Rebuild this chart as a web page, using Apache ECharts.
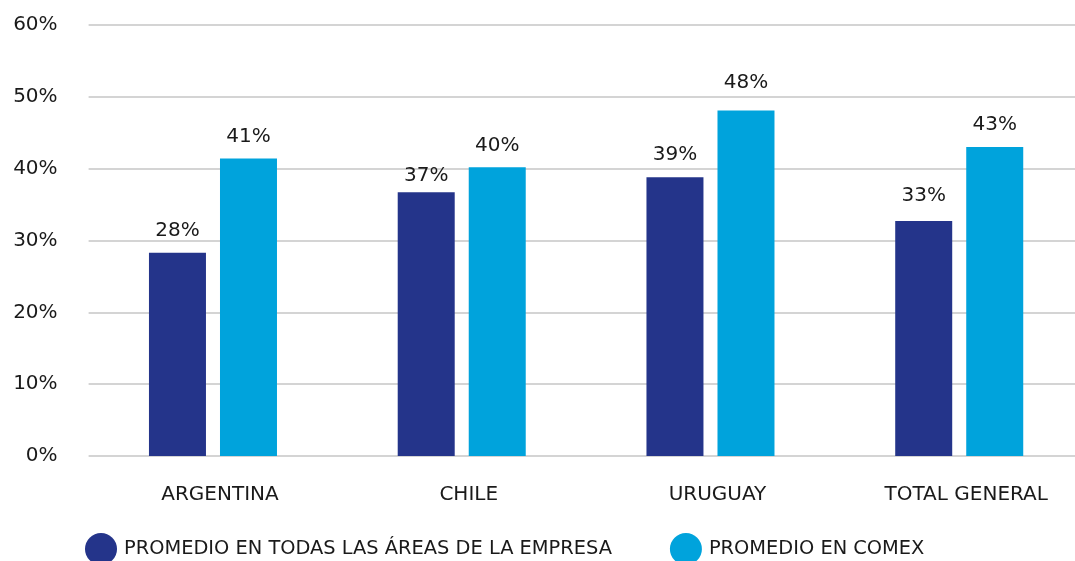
<!DOCTYPE html>
<html>
<head>
<meta charset="utf-8">
<script src="https://cdn.jsdelivr.net/npm/echarts@6/dist/echarts.min.js"></script>
<style>
  html, body { margin: 0; padding: 0; background: #fff; }
  #chart { width: 1075px; height: 561px; }
</style>
</head>
<body>
<div id="chart"></div>
<script>
// datos
const categories = ['ARGENTINA', 'CHILE', 'URUGUAY', 'TOTAL GENERAL'];
const seriesNames = ['PROMEDIO EN TODAS LAS ÁREAS DE LA EMPRESA', 'PROMEDIO EN COMEX'];
const promedioEmpresa = [28.3, 36.7, 38.8, 32.7];
const promedioComex = [41.4, 40.2, 48.1, 43.0];
const yTicks = [0, 10, 20, 30, 40, 50, 60];

// separacion de cada etiqueta sobre su barra (como en el original)
const distEmpresa = [12, 7, 12, 15];
const distComex = [12, 11, 18, 12];

const font = '"DejaVu Sans", sans-serif';
const textColor = '#1a1a1a';

function barLabel(dist) {
  return {
    show: true,
    position: 'top',
    distance: dist,
    color: textColor,
    fontSize: 20,
    fontFamily: font,
    formatter: p => Math.round(p.value) + '%'
  };
}

let chart = echarts.init(document.getElementById('chart'));
chart.setOption({
  backgroundColor: '#fff',
  animation: false,
  textStyle: { fontFamily: font },
  grid: {
    left: 88.6,
    width: 995,
    top: 25,
    bottom: 105,
    outerBoundsMode: 'none'
  },
  legend: {
    left: 85,
    top: 533,
    padding: 0,
    icon: 'circle',
    itemWidth: 32,
    itemHeight: 32,
    itemGap: 58,
    textStyle: { fontSize: 19.4, color: textColor, fontFamily: font, padding: [0, 0, 0, 2] },
    data: seriesNames
  },
  xAxis: {
    type: 'category',
    data: categories,
    axisLine: { show: false },
    axisTick: { show: false },
    axisLabel: { color: textColor, fontSize: 20, margin: 29, fontFamily: font, padding: [0, 0, 0, 14] }
  },
  yAxis: {
    type: 'value',
    min: yTicks[0],
    max: yTicks[yTicks.length - 1],
    interval: 10,
    axisLine: { show: false },
    axisTick: { show: false },
    axisLabel: {
      color: textColor,
      fontSize: 20,
      margin: 31,
      fontFamily: font,
      formatter: v => v + '%'
    },
    splitLine: { lineStyle: { color: '#c6c6c6', width: 1.5 } }
  },
  series: [
    {
      name: seriesNames[0],
      type: 'bar',
      barWidth: 57,
      barGap: '24.6%',
      itemStyle: { color: '#24348a' },
      label: barLabel(12),
      data: promedioEmpresa.map((v, i) => ({ value: v, label: { distance: distEmpresa[i] } }))
    },
    {
      name: seriesNames[1],
      type: 'bar',
      barWidth: 57,
      itemStyle: { color: '#00a3dc' },
      label: barLabel(12),
      data: promedioComex.map((v, i) => ({ value: v, label: { distance: distComex[i] } }))
    }
  ]
});
</script>
</body>
</html>
